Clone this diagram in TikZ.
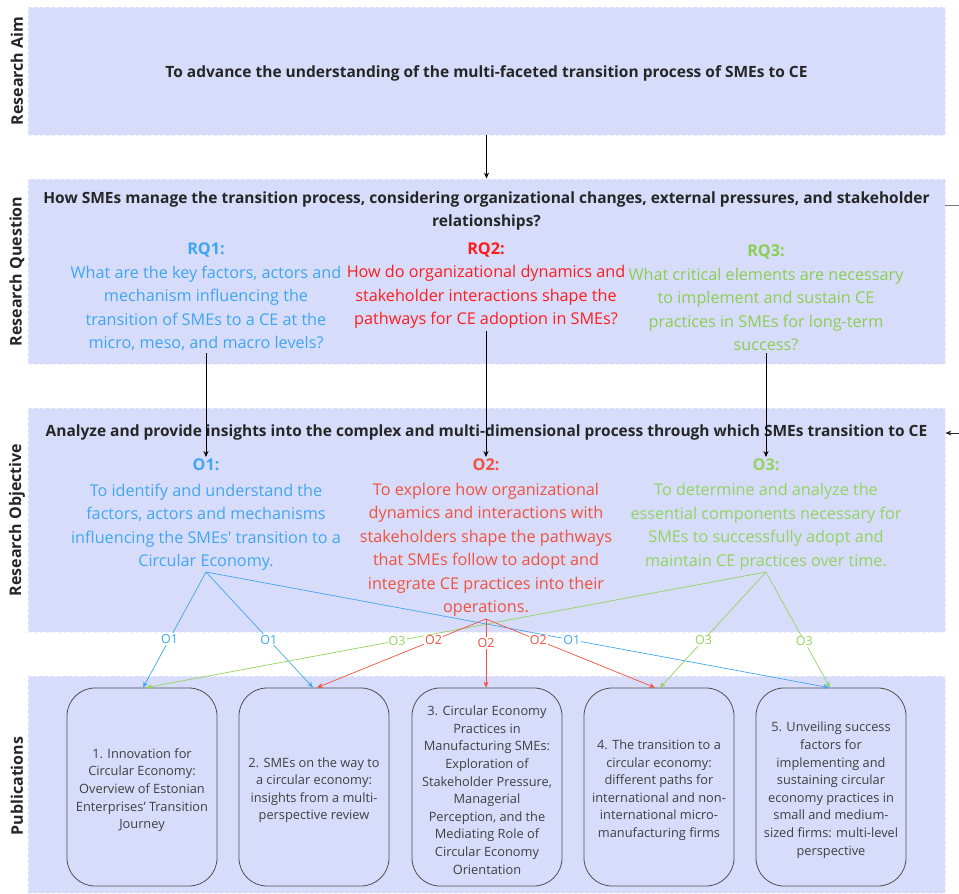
\documentclass[tikz,border=0pt]{standalone}
\usepackage{fontspec}
\setmainfont{Open Sans}
\usetikzlibrary{arrows.meta}

\definecolor{bandfill}{RGB}{215,220,250}
\definecolor{bandedge}{RGB}{236,239,253}
\definecolor{headtext}{RGB}{38,38,38}
\definecolor{rqblue}{RGB}{62,166,240}
\definecolor{rqred}{RGB}{255,28,28}
\definecolor{rqgreen}{RGB}{140,206,80}
\definecolor{oblue}{RGB}{66,167,240}
\definecolor{ored}{RGB}{240,82,62}
\definecolor{ogreen}{RGB}{146,212,96}
\definecolor{pubtext}{RGB}{64,64,64}
\definecolor{pubedge}{RGB}{80,80,80}
\definecolor{sidelink}{RGB}{120,120,120}

% taller first line, so the box text sits a little lower
\newcommand{\pubtop}{\rule{0pt}{16pt}}

\tikzset{
  band/.style={rectangle, fill=bandfill, draw=bandedge, dashed, line width=0.8pt,
    minimum width=917pt, inner sep=0pt},
  sidelabel/.style={rotate=90, font=\fontsize{16}{18}\selectfont\bfseries, text=headtext},
  headline/.style={align=center, font=\fontsize{15.5}{22.5}\selectfont\bfseries, text=headtext},
  goaltext/.style={align=center, font=\fontsize{16.2}{23.5}\selectfont, inner sep=2pt},
  pubbox/.style={draw=pubedge, line width=0.8pt, rounded corners=28pt,
    minimum width=150pt, minimum height=198pt, align=center, text=pubtext,
    font=\fontsize{12.8}{17.6}\selectfont, inner sep=2pt},
  flow/.style={draw=black, line width=0.8pt, -{Stealth[length=6pt,width=5pt]}},
  link/.style={line width=0.7pt, -{Stealth[length=6pt,width=5pt]}},
  linklabel/.style={fill=white, inner sep=1pt, font=\fontsize{12.5}{14}\selectfont},
}

\begin{document}
\begin{tikzpicture}[x=1pt, y=-1pt]
\useasboundingbox (0,0) rectangle (959,894);

% horizontal bands
\node[band, minimum height=128pt] (aimband) at (486.5,71) {};
\node[band, minimum height=185pt] (qband) at (486.5,271.5) {};
\node[band, minimum height=224pt] (oband) at (486.5,520) {};
\node[band, minimum height=217pt] (pband) at (486.5,784.5) {};

% band titles
\node[sidelabel] (aimlabel) at (17,71) {Research Aim};
\node[sidelabel] (qlabel) at (17,271.5) {Research Question};
\node[sidelabel] (olabel) at (17,520) {Research Objective};
\node[sidelabel] (plabel) at (17,786) {Publications};

% aim
\node[headline] (aim) at (486.5,73) {To advance the understanding of the multi-faceted transition process of SMEs to CE};

% research question
\node[headline] (question) at (486.5,211) {How SMEs manage the transition process, considering organizational changes, external pressures, and stakeholder\\relationships?};

\node[goaltext, text=rqblue] (rq1) at (206,297) {\textbf{RQ1:}\\What are the key factors, actors and\\mechanism influencing the\\transition of SMEs to a CE at the\\micro, meso, and macro levels?};
\node[goaltext, text=rqred] (rq2) at (486,285.5) {\textbf{RQ2:}\\How do organizational dynamics and\\stakeholder interactions shape the\\pathways for CE adoption in SMEs?};
\node[goaltext, text=rqgreen] (rq3) at (766,298) {\textbf{RQ3:}\\What critical elements are necessary\\to implement and sustain CE\\practices in SMEs for long-term\\success?};

% research objective
\node[headline] (objective) at (486.5,432) {Analyze and provide insights into the complex and multi-dimensional process through which SMEs transition to CE};

\node[goaltext, text=oblue, anchor=north] (o1title) at (206,457) {\textbf{O1:}};
\node[goaltext, text=ored, anchor=north] (o2title) at (486,457) {\textbf{O2:}};
\node[goaltext, text=ogreen, anchor=north] (o3title) at (766,457) {\textbf{O3:}};

\node[goaltext, text=oblue] (o1) at (206,527) {To identify and understand the\\factors, actors and mechanisms\\influencing the SMEs\textquotesingle{} transition to a\\Circular Economy.};
\node[goaltext, text=ored] (o2) at (486,550) {To explore how organizational\\dynamics and interactions with\\stakeholders shape the pathways\\that SMEs follow to adopt and\\integrate CE practices into their\\operations.};
\node[goaltext, text=ogreen] (o3) at (766,527) {To determine and analyze the\\essential components necessary for\\SMEs to successfully adopt and\\maintain CE practices over time.};

% publications
\node[pubbox] (pub1) at (142,787) {\pubtop 1. Innovation for\\Circular Economy:\\Overview of Estonian\\Enterprises’ Transition\\Journey};
\node[pubbox] (pub2) at (314,787) {\pubtop 2. SMEs on the way to\\a circular economy:\\insights from a multi-\\perspective review};
\node[pubbox] (pub3) at (487,787) {\pubtop 3. Circular Economy\\Practices in\\Manufacturing SMEs:\\Exploration of\\Stakeholder Pressure,\\Managerial\\Perception, and the\\Mediating Role of\\Circular Economy\\Orientation};
\node[pubbox] (pub4) at (659,787) {\pubtop 4. The transition to a\\circular economy:\\different paths for\\international and non-\\international micro-\\manufacturing firms};
\node[pubbox] (pub5) at (831,787) {\pubtop 5. Unveiling success\\factors for\\implementing and\\sustaining circular\\economy practices in\\small and medium-\\sized firms: multi-level\\perspective};

% main flow
\draw[flow] (aimband.south) -- (qband.north);
\draw[flow] (rq1.south) -- (o1title.north);
\draw[flow] (rq2.south) -- (o2title.north);
\draw[flow] (rq3.south) -- (o3title.north);

% loop between question and objective leaving on the right
\coordinate (qexit) at (959,205);
\coordinate (oentry) at (959,433);
\draw[sidelink, line width=0.8pt] (qband.east |- qexit) -- (qexit);
\draw[flow, draw=headtext] (oentry) -- (oband.east |- oentry);

% fork points under the objectives
\coordinate (o1fork) at (206,572);
\coordinate (o2fork) at (486,619);
\coordinate (o3fork) at (766,572);

% objective to publication links
\draw[link, draw=oblue] (o1fork) -- ([xshift=1pt]pub1.north);
\draw[link, draw=oblue] (o1fork) -- ([xshift=-1pt]pub2.north);
\draw[link, draw=oblue] (o1fork) -- ([xshift=-2pt]pub5.north);
\draw[link, draw=ogreen] (o3fork) -- ([xshift=4pt]pub1.north);
\draw[link, draw=ogreen] (o3fork) -- ([xshift=1pt]pub4.north);
\draw[link, draw=ogreen] (o3fork) -- ([xshift=-1pt]pub5.north);
\draw[link, draw=ored] (o2fork) -- ([xshift=3pt]pub2.north);
\draw[link, draw=ored] (o2fork) -- ([xshift=-1pt]pub3.north);
\draw[link, draw=ored] (o2fork) -- ([xshift=-4pt]pub4.north);

% link labels
\path (o1fork) -- ([xshift=1pt]pub1.north) node[linklabel, text=oblue, pos=0.58] (l11) {O1};
\path (o1fork) -- ([xshift=-1pt]pub2.north) node[linklabel, text=oblue, pos=0.586] (l12) {O1};
\path (o1fork) -- ([xshift=-2pt]pub5.north) node[linklabel, text=oblue, pos=0.587] (l15) {O1};
\path (o3fork) -- ([xshift=4pt]pub1.north) node[linklabel, text=ogreen, pos=0.595] (l31) {O3};
\path (o3fork) -- ([xshift=1pt]pub4.north) node[linklabel, text=ogreen, pos=0.59] (l34) {O3};
\path (o3fork) -- ([xshift=-1pt]pub5.north) node[linklabel, text=ogreen, pos=0.6] (l35) {O3};
\path (o2fork) -- ([xshift=3pt]pub2.north) node[linklabel, text=ored, pos=0.31] (l22) {O2};
\path (o2fork) -- ([xshift=-1pt]pub3.north) node[linklabel, text=ored, pos=0.35] (l23) {O2};
\path (o2fork) -- ([xshift=-4pt]pub4.north) node[linklabel, text=ored, pos=0.31] (l24) {O2};
\end{tikzpicture}
\end{document}
